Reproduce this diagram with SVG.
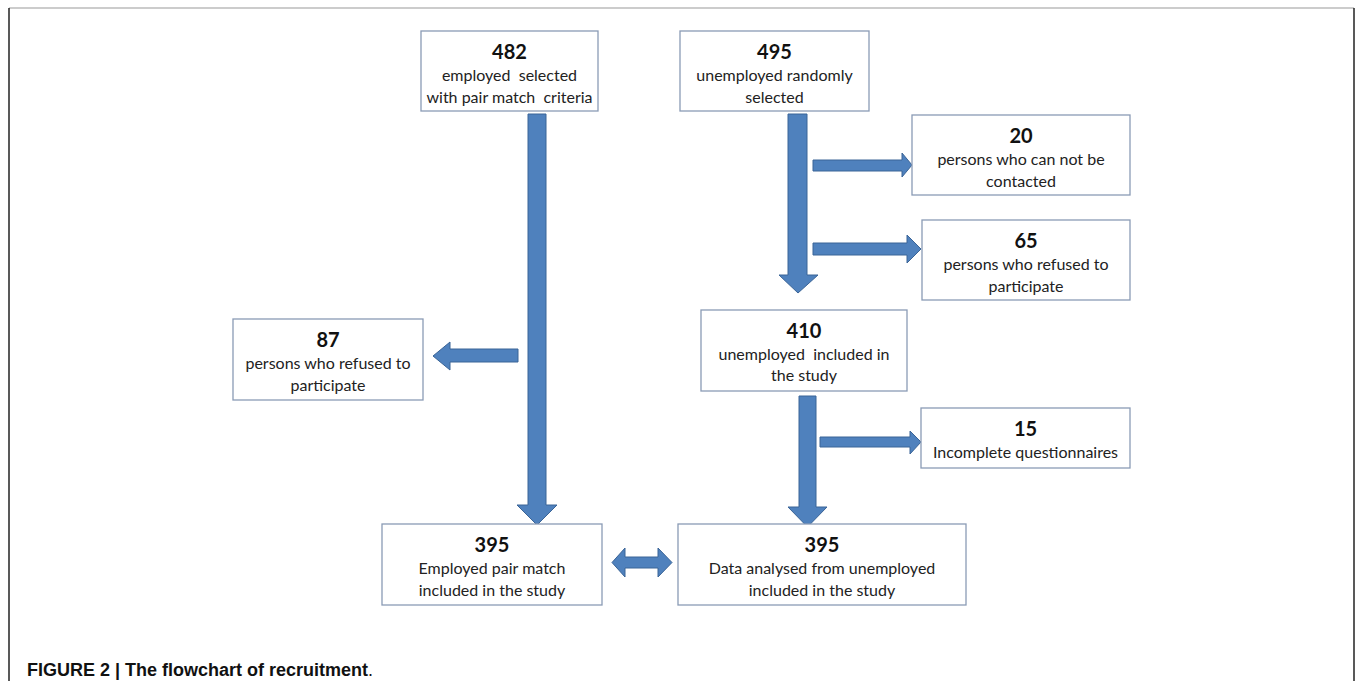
<svg xmlns="http://www.w3.org/2000/svg" width="1355" height="681" viewBox="0 0 1355 681">
<style>
.box{fill:#ffffff;stroke:#8a9bb5;stroke-width:1.3}
.num{font-family:Lato,"Noto Sans",sans-serif;font-weight:bold;font-size:20px;fill:#111;text-anchor:middle}
.lbl{font-family:Lato,"Noto Sans",sans-serif;font-size:16px;fill:#222;text-anchor:middle}
.arr{fill:#4f81bd;stroke:#3a6497;stroke-width:1}
.cap{font-family:"Liberation Sans",Arial,sans-serif;font-weight:bold;font-size:18px;fill:#111}
</style>
<rect width="1355" height="681" fill="#ffffff"/>
<g id="frame">
<line x1="9" y1="8" x2="1354" y2="8" stroke="#999" stroke-width="1.2"/>
<line x1="9" y1="8" x2="9" y2="681" stroke="#222" stroke-width="1.5"/>
<line x1="1354" y1="8" x2="1354" y2="681" stroke="#222" stroke-width="1.5"/>
</g>
<g id="connectors">
<polygon class="arr" points="528,114 546,114 546,505 557,505 537,525 517,505 528,505"/>
<polygon class="arr" points="788,114 807,114 807,275 818,275 798,293 779,275 788,275"/>
<polygon class="arr" points="813,160 902,160 902,153 912,165 902,177 902,171 813,171"/>
<polygon class="arr" points="813,243 907,243 907,235 921,249 907,263 907,255 813,255"/>
<polygon class="arr" points="518,349 450,349 450,342 433,356 450,370 450,362 518,362"/>
<polygon class="arr" points="799,396 816,396 816,507 827,507 807.5,527 788,507 799,507"/>
<polygon class="arr" points="820,437 910,437 910,431 921,442 910,454 910,447 820,447"/>
<polygon class="arr" points="612,562.5 625,548 625,557 658,557 658,548 672,562.5 658,577 658,568 625,568 625,577"/>
</g>
<g id="n482">
<rect class="box" x="421" y="31" width="177" height="80"/>
<text class="num" x="509.5" y="59">482</text>
<text class="lbl" x="509.5" y="81" xml:space="preserve">employed  selected</text>
<text class="lbl" x="509.5" y="103" xml:space="preserve">with pair match  criteria</text>
</g>
<g id="n495">
<rect class="box" x="680" y="31" width="189" height="80"/>
<text class="num" x="774.5" y="59">495</text>
<text class="lbl" x="774.5" y="81">unemployed randomly</text>
<text class="lbl" x="774.5" y="103">selected</text>
</g>
<g id="n20">
<rect class="box" x="912" y="115" width="218" height="80"/>
<text class="num" x="1021" y="143">20</text>
<text class="lbl" x="1021" y="165">persons who can not be</text>
<text class="lbl" x="1021" y="187">contacted</text>
</g>
<g id="n65">
<rect class="box" x="922" y="220" width="208" height="80"/>
<text class="num" x="1026" y="248">65</text>
<text class="lbl" x="1026" y="270">persons who refused to</text>
<text class="lbl" x="1026" y="292">participate</text>
</g>
<g id="n87">
<rect class="box" x="233" y="319" width="190" height="81"/>
<text class="num" x="328" y="347">87</text>
<text class="lbl" x="328" y="369">persons who refused to</text>
<text class="lbl" x="328" y="391">participate</text>
</g>
<g id="n410">
<rect class="box" x="701" y="310" width="206" height="81"/>
<text class="num" x="804" y="338">410</text>
<text class="lbl" x="804" y="360" xml:space="preserve">unemployed  included in</text>
<text class="lbl" x="804" y="381">the study</text>
</g>
<g id="n15">
<rect class="box" x="921" y="408" width="209" height="60"/>
<text class="num" x="1025.5" y="436">15</text>
<text class="lbl" x="1025.5" y="458">Incomplete questionnaires</text>
</g>
<g id="n395a">
<rect class="box" x="382" y="524" width="220" height="81"/>
<text class="num" x="492" y="552">395</text>
<text class="lbl" x="492" y="574">Employed pair match</text>
<text class="lbl" x="492" y="596">included in the study</text>
</g>
<g id="n395b">
<rect class="box" x="678" y="524" width="288" height="81"/>
<text class="num" x="822" y="552">395</text>
<text class="lbl" x="822" y="574">Data analysed from unemployed</text>
<text class="lbl" x="822" y="596">included in the study</text>
</g>
<g id="caption">
<text class="cap" x="27" y="676">FIGURE 2 | The flowchart of recruitment<tspan font-weight="normal">.</tspan></text>
</g>
</svg>
